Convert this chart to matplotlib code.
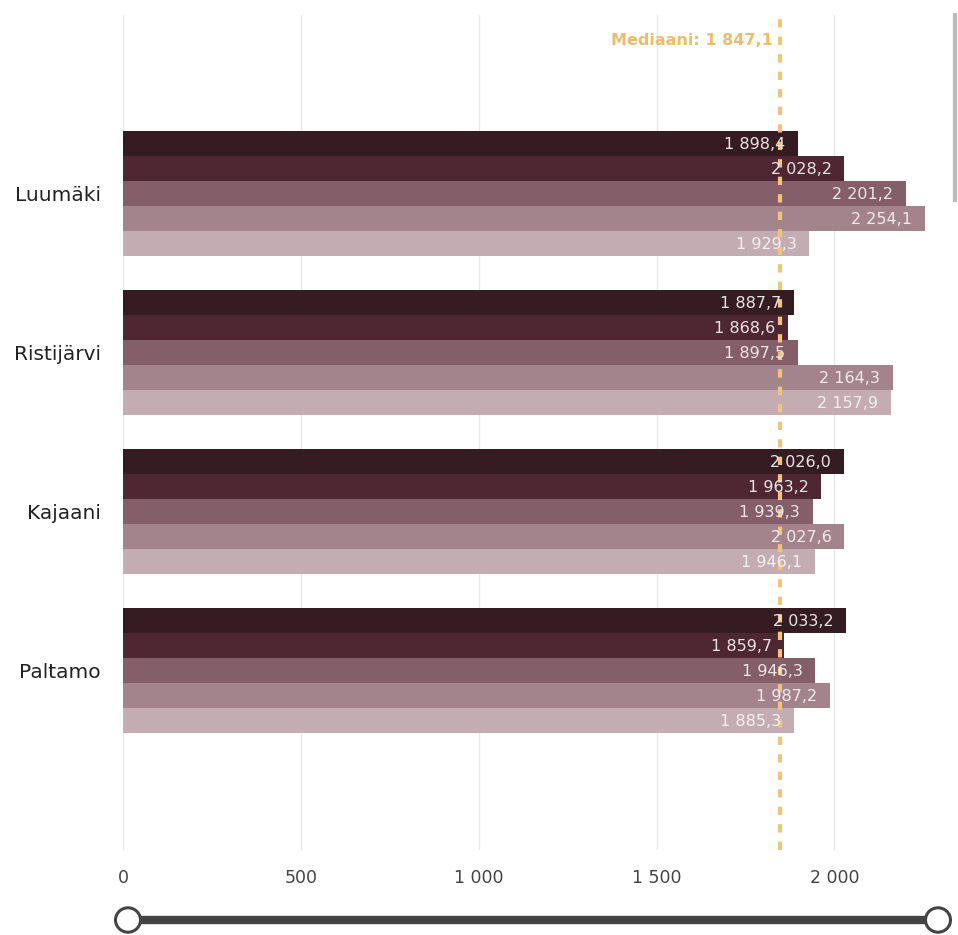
import matplotlib
matplotlib.use("Agg")
import matplotlib.pyplot as plt
from matplotlib.patches import Circle
from matplotlib.lines import Line2D

# data
municipalities = ["Luumäki", "Ristijärvi", "Kajaani", "Paltamo"]
series_1 = [1898.4, 1887.7, 2026.0, 2033.2]
series_2 = [2028.2, 1868.6, 1963.2, 1859.7]
series_3 = [2201.2, 1897.5, 1939.3, 1946.3]
series_4 = [2254.1, 2164.3, 2027.6, 1987.2]
series_5 = [1929.3, 2157.9, 1946.1, 1885.3]
median_value = 1847.1
x_ticks = [0, 500, 1000, 1500, 2000]

series = [series_1, series_2, series_3, series_4, series_5]
colors = ["#341c22", "#4e2733", "#845e69", "#a3848d", "#c3adb3"]
label_colors = ["#e8e4e5", "#e8e4e5", "#ece6e8", "#f0eaec", "#f5eff1"]


def fi_num(v, decimals=1):
    s = f"{v:,.{decimals}f}"
    return s.replace(",", " ").replace(".", ",")


W, H = 958, 935
fig = plt.figure(figsize=(W / 100, H / 100), dpi=100)
ax = fig.add_axes([123 / W, 85 / H, (950 - 123) / W, 835 / H])

bar_h = 0.157
for i, (vals, col, lcol) in enumerate(zip(series, colors, label_colors)):
    offs = (i - 2) * bar_h
    ys = [k + offs for k in range(len(municipalities))]
    ax.barh(ys, vals, height=bar_h, color=col, zorder=2)
    for y, v in zip(ys, vals):
        ax.text(v - 36, y + 0.01, fi_num(v), ha="right", va="center",
                color=lcol, fontsize=11.5, zorder=4)

ax.axvline(median_value, color="#f2c47a", lw=3, ls=(0, (2, 2.2)), zorder=3)
ax.text(median_value - 20, -0.96, "Mediaani: " + fi_num(median_value),
        ha="right", va="center", color="#efbd6a", fontsize=11.5,
        fontweight="bold", zorder=4)

ax.set_xlim(0, 2325)
ax.set_ylim(4.13, -1.12)
ax.set_xticks(x_ticks)
ax.set_xticklabels([fi_num(t, 0) for t in x_ticks], fontsize=12.5, color="#444444")
ax.set_yticks(range(len(municipalities)))
ax.set_yticklabels(municipalities, fontsize=14.5, color="#222222")
ax.tick_params(length=0, pad=14)
ax.tick_params(axis="y", pad=16)
ax.grid(axis="x", color="#e8e8e8", lw=1, zorder=0)
for sp in ax.spines.values():
    sp.set_visible(False)

# range slider below the axis
fig.add_artist(Line2D([128 / W, 938 / W], [1 - 920 / H, 1 - 920 / H],
                      color="#444444", lw=6, transform=fig.transFigure))
for cx in (128, 938):
    fig.add_artist(Circle((cx / W, 1 - 920 / H), 12.5 / W, transform=fig.transFigure,
                          facecolor="white", edgecolor="#444444", lw=2.2, zorder=5))

# scrollbar on the right edge
fig.add_artist(Line2D([955 / W, 955 / W], [1 - 15 / H, 1 - 200 / H],
                      color="#bbbbbb", lw=3, transform=fig.transFigure))

fig.savefig("out.png", dpi=100)
